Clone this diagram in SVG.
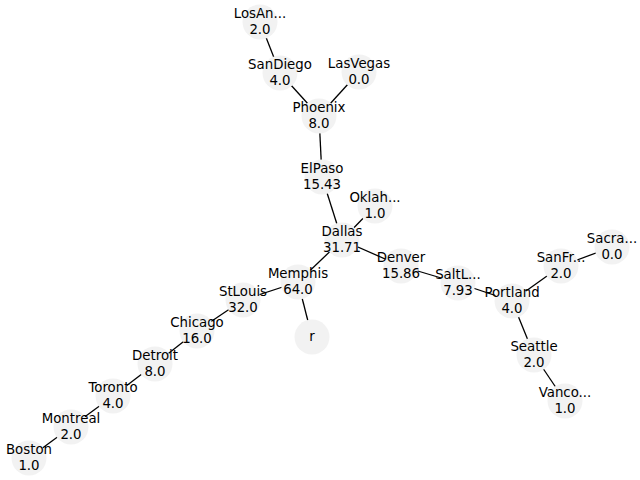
<svg xmlns="http://www.w3.org/2000/svg" width="640" height="480" viewBox="0 0 640 480">
<style>
.n circle{fill:#f2f2f2;stroke:none}
.n text{font-family:"DejaVu Sans",sans-serif;font-size:13.33px;fill:#000;text-anchor:middle}
#edges line{stroke:#000;stroke-width:1.3}
</style>
<rect width="640" height="480" fill="#fff"/>
<g id="edges">
<line x1="260" y1="22" x2="280" y2="73"/>
<line x1="280" y1="73" x2="319" y2="116"/>
<line x1="359" y1="72" x2="319" y2="116"/>
<line x1="319" y1="116" x2="322" y2="177"/>
<line x1="322" y1="177" x2="342" y2="240"/>
<line x1="375" y1="206" x2="342" y2="240"/>
<line x1="342" y1="240" x2="401" y2="266"/>
<line x1="342" y1="240" x2="298" y2="282"/>
<line x1="298" y1="282" x2="243" y2="300"/>
<line x1="298" y1="282" x2="312" y2="337"/>
<line x1="243" y1="300" x2="197" y2="331"/>
<line x1="197" y1="331" x2="155" y2="364"/>
<line x1="155" y1="364" x2="113" y2="396"/>
<line x1="113" y1="396" x2="71" y2="427"/>
<line x1="71" y1="427" x2="29" y2="458"/>
<line x1="401" y1="266" x2="458" y2="283"/>
<line x1="458" y1="283" x2="512" y2="301"/>
<line x1="512" y1="301" x2="561" y2="266"/>
<line x1="561" y1="266" x2="612" y2="247"/>
<line x1="512" y1="301" x2="534" y2="355"/>
<line x1="534" y1="355" x2="565" y2="401"/>
</g>
<g id="nodes">
<g id="LosAngeles" class="n"><circle cx="260" cy="22" r="17.5"/><text x="260" y="18">LosAn...</text><text x="260" y="34">2.0</text></g>
<g id="SanDiego" class="n"><circle cx="280" cy="73" r="17.5"/><text x="280" y="69">SanDiego</text><text x="280" y="85">4.0</text></g>
<g id="LasVegas" class="n"><circle cx="359" cy="72" r="17.5"/><text x="359" y="68">LasVegas</text><text x="359" y="84">0.0</text></g>
<g id="Phoenix" class="n"><circle cx="319" cy="116" r="17.5"/><text x="319" y="112">Phoenix</text><text x="319" y="128">8.0</text></g>
<g id="ElPaso" class="n"><circle cx="322" cy="177" r="17.5"/><text x="322" y="173">ElPaso</text><text x="322" y="189">15.43</text></g>
<g id="Oklahoma" class="n"><circle cx="375" cy="206" r="17.5"/><text x="375" y="202">Oklah...</text><text x="375" y="218">1.0</text></g>
<g id="Dallas" class="n"><circle cx="342" cy="240" r="17.5"/><text x="342" y="236">Dallas</text><text x="342" y="252">31.71</text></g>
<g id="Denver" class="n"><circle cx="401" cy="266" r="17.5"/><text x="401" y="262">Denver</text><text x="401" y="278">15.86</text></g>
<g id="SaltLake" class="n"><circle cx="458" cy="283" r="17.5"/><text x="458" y="279">SaltL...</text><text x="458" y="295">7.93</text></g>
<g id="Portland" class="n"><circle cx="512" cy="301" r="17.5"/><text x="512" y="297">Portland</text><text x="512" y="313">4.0</text></g>
<g id="SanFrancisco" class="n"><circle cx="561" cy="266" r="17.5"/><text x="561" y="262">SanFr...</text><text x="561" y="278">2.0</text></g>
<g id="Sacramento" class="n"><circle cx="612" cy="247" r="17.5"/><text x="612" y="243">Sacra...</text><text x="612" y="259">0.0</text></g>
<g id="Seattle" class="n"><circle cx="534" cy="355" r="17.5"/><text x="534" y="351">Seattle</text><text x="534" y="367">2.0</text></g>
<g id="Vancouver" class="n"><circle cx="565" cy="401" r="17.5"/><text x="565" y="397">Vanco...</text><text x="565" y="413">1.0</text></g>
<g id="r" class="n"><circle cx="312" cy="337" r="17.5"/><text x="312" y="341">r</text></g>
<g id="Boston" class="n"><circle cx="29" cy="458" r="17.5"/><text x="29" y="454">Boston</text><text x="29" y="470">1.0</text></g>
<g id="Montreal" class="n"><circle cx="71" cy="427" r="17.5"/><text x="71" y="423">Montreal</text><text x="71" y="439">2.0</text></g>
<g id="Toronto" class="n"><circle cx="113" cy="396" r="17.5"/><text x="113" y="392">Toronto</text><text x="113" y="408">4.0</text></g>
<g id="Detroit" class="n"><circle cx="155" cy="364" r="17.5"/><text x="155" y="360">Detroit</text><text x="155" y="376">8.0</text></g>
<g id="Chicago" class="n"><circle cx="197" cy="331" r="17.5"/><text x="197" y="327">Chicago</text><text x="197" y="343">16.0</text></g>
<g id="StLouis" class="n"><circle cx="243" cy="300" r="17.5"/><text x="243" y="296">StLouis</text><text x="243" y="312">32.0</text></g>
<g id="Memphis" class="n"><circle cx="298" cy="282" r="17.5"/><text x="298" y="278">Memphis</text><text x="298" y="294">64.0</text></g>
</g>
</svg>
